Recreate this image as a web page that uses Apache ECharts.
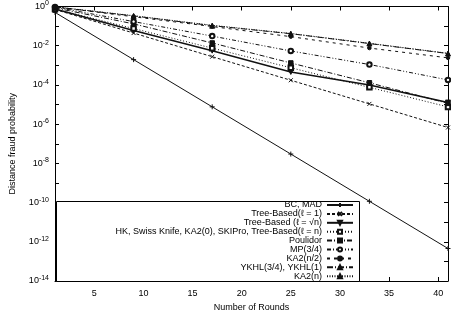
<!DOCTYPE html>
<html><head><meta charset="utf-8">
<script src="https://cdn.jsdelivr.net/npm/echarts@6/dist/echarts.min.js"></script>
<style>html,body{margin:0;padding:0;background:#fff}#c{width:451px;height:322px}</style>
</head><body><div id="c"></div>
<script>
const rounds = [1, 9, 17, 25, 33, 41];
const xTicks = [5, 10, 15, 20, 25, 30, 35, 40];
const seriesNames = [
  'BC, MAD',
  'Tree-Based(ℓ = 1)',
  'Tree-Based (ℓ = √n)',
  'HK, Swiss Knife, KA2(0), SKIPro, Tree-Based(ℓ = n)',
  'Poulidor',
  'MP(3/4)',
  'KA2(n/2)',
  'YKHL(3/4), YKHL(1)',
  'KA2(n)'
];
const bcMad      = [0.5, 1.95e-3, 7.63e-6, 2.98e-8, 1.16e-10, 4.55e-13];
const tree1      = [0.707, 4.42e-2, 2.76e-3, 1.73e-4, 1.08e-5, 6.74e-7];
const treeSqrt   = [0.75, 6.0e-2, 5.6e-3, 4.6e-4, 1.0e-4, 1.26e-5];
const hk         = [0.75, 7.51e-2, 7.52e-3, 7.53e-4, 7.54e-5, 7.55e-6];
const poulidor   = [0.85, 0.13, 1.38e-2, 1.32e-3, 1.29e-4, 1.15e-5];
const mp34       = [0.93, 0.17, 3.1e-2, 5.4e-3, 1.1e-3, 1.8e-4];
const ka2Half    = [0.95, 0.30, 0.095, 2.9e-2, 7.6e-3, 2.4e-3];
const ykhl       = [0.95, 0.33, 0.105, 4.1e-2, 1.29e-2, 4.0e-3];
const ka2Full    = [0.96, 0.34, 0.11, 4.2e-2, 1.33e-2, 4.1e-3];

const plus = 'path://M5,0L5,10M0,5L10,5';
const cross = 'path://M0,0L10,10M10,0L0,10';
const styles = [
  {data: bcMad, symbol: plus, size: 5, type: 'solid', w: 1, fill: 'none'},
  {data: tree1, symbol: cross, size: 4, type: [3, 2], w: 1, fill: 'none'},
  {data: treeSqrt, symbol: 'triangle', rot: 180, size: 5, type: 'solid', w: 1.5},
  {data: hk, symbol: 'emptyRect', size: 4.5, type: [1, 2], w: 1},
  {data: poulidor, symbol: 'rect', size: 4.5, type: [5, 2, 1, 2], w: 1},
  {data: mp34, symbol: 'emptyCircle', size: 4.5, type: [4, 2, 1, 2, 1, 2], w: 1},
  {data: ka2Half, symbol: 'circle', size: 3.5, type: [3, 4], w: 1},
  {data: ykhl, symbol: 'triangle', size: 5, type: [6, 2, 1, 2], w: 1},
  {data: ka2Full, symbol: 'triangle', size: 3.5, type: [1, 1.5], w: 1}
];
const ink = '#111';
const series = styles.map((s, i) => ({
  name: seriesNames[i],
  type: 'line',
  data: rounds.map((r, j) => [r, s.data[j]]),
  symbol: s.symbol,
  symbolSize: s.size,
  symbolRotate: s.rot || 0,
  showAllSymbol: true,
  lineStyle: {color: ink, width: s.w, type: s.type},
  itemStyle: {color: s.fill === 'none' ? 'rgba(0,0,0,0)' : ink, borderColor: ink, borderWidth: 1},
  emphasis: {disabled: true},
  animation: false,
  z: 3
}));

const fontFamily = 'Liberation Sans, Arial, sans-serif';
const supFmt = v => {
  const e = Math.round(Math.log10(v));
  if (e % 2 !== 0) return '';
  return '{b|10}{s|' + e + '}';
};
const chart = echarts.init(document.getElementById('c'));
chart.setOption({
  animation: false,
  backgroundColor: '#fff',
  textStyle: {fontFamily},
  grid: {left: 52, right: 3, top: 5, bottom: 41},
  xAxis: [{
    type: 'value', min: 1, max: 41, position: 'bottom',
    name: 'Number of Rounds', nameLocation: 'middle', nameGap: 21,
    nameTextStyle: {fontSize: 9, color: '#000', fontFamily},
    axisLine: {lineStyle: {color: '#000', width: 1}},
    axisTick: {inside: true, length: 4, customValues: xTicks, lineStyle: {color: '#000'}},
    axisLabel: {customValues: xTicks, fontSize: 9, color: '#000', margin: 8, fontFamily},
    splitLine: {show: false}
  }, {
    type: 'value', min: 1, max: 41, position: 'top',
    axisLine: {lineStyle: {color: '#000', width: 1}},
    axisTick: {inside: true, length: 4, customValues: xTicks, lineStyle: {color: '#000'}},
    axisLabel: {show: false},
    splitLine: {show: false}
  }],
  yAxis: [{
    type: 'log', logBase: 10, min: 1e-14, max: 1, interval: 1,
    name: 'Distance fraud probability', nameLocation: 'middle', nameGap: 38,
    nameTextStyle: {fontSize: 9, color: '#000', fontFamily},
    axisLine: {show: true, lineStyle: {color: '#000', width: 1}},
    axisTick: {inside: true, length: 4, lineStyle: {color: '#000'}},
    axisLabel: {
      formatter: supFmt, margin: 6, color: '#000',
      rich: {b: {fontSize: 9, fontFamily, color: '#000'}, s: {fontSize: 7, fontFamily, color: '#000', padding: [0, 0, 6, 0]}}
    },
    splitLine: {show: false}
  }, {
    type: 'log', logBase: 10, min: 1e-14, max: 1, interval: 1, position: 'right',
    axisLine: {show: true, lineStyle: {color: '#000', width: 1}},
    axisTick: {inside: true, length: 4, lineStyle: {color: '#000'}},
    axisLabel: {show: false},
    splitLine: {show: false}
  }],
  graphic: [{
    type: 'rect', left: 56, top: 201, z: 10,
    shape: {width: 303, height: 80},
    style: {fill: '#fff', stroke: '#000', lineWidth: 1}
  }],
  legend: {
    orient: 'vertical', align: 'right', right: 97, top: 200.5, z: 20,
    padding: 0, itemGap: -0.1, itemWidth: 26, itemHeight: 5,
    textStyle: {fontSize: 9, color: '#000', fontFamily, lineHeight: 8},
    selectedMode: false,
    data: seriesNames
  },
  series
});
</script></body></html>
